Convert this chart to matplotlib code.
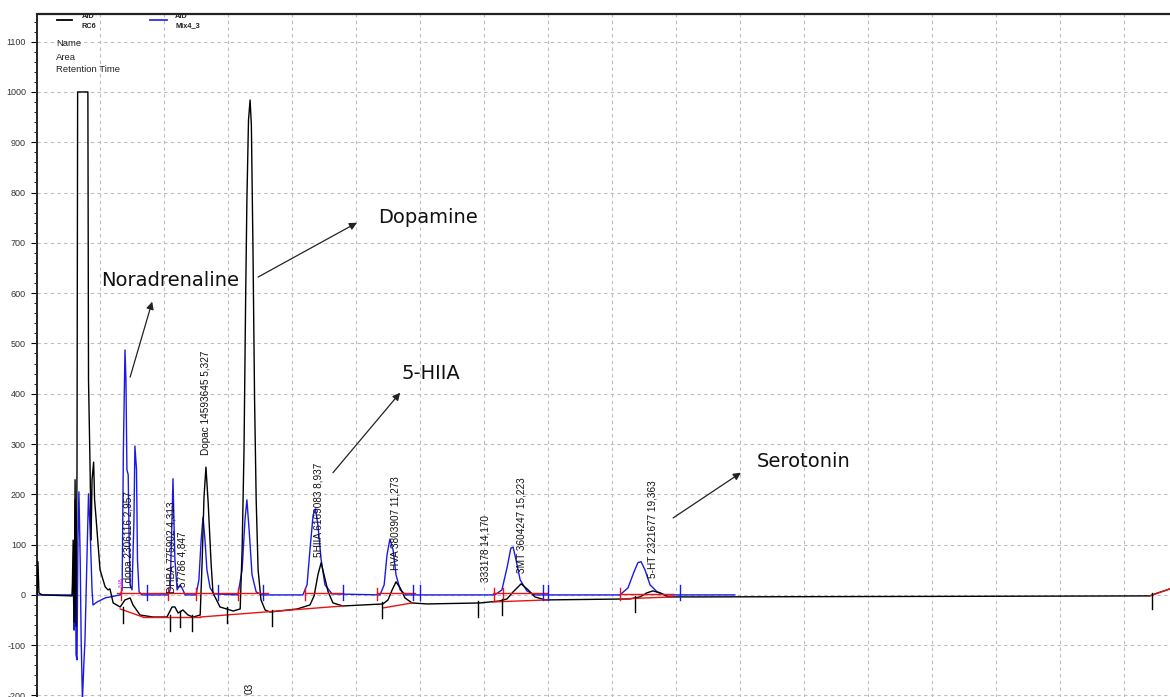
import matplotlib
matplotlib.use("Agg")
import matplotlib.pyplot as plt
from matplotlib.ticker import MultipleLocator, NullFormatter

plt.rcParams["axes.unicode_minus"] = False

# detector trace of sample RC6 (time in min, signal in mV)
black_t = [0.03, 0.06, 0.09, 0.19, 1.13, 1.16, 1.19, 1.22, 1.25, 1.28, 1.30, 1.62, 1.64,
           1.69, 1.72, 1.75, 1.80, 1.83, 1.88, 1.94, 2.00, 2.16, 2.25, 2.31, 2.41, 2.63,
           2.78, 2.94, 3.03, 3.25, 3.66, 4.09, 4.25, 4.34, 4.44, 4.59, 4.75, 4.91, 5.13,
           5.19, 5.25, 5.31, 5.38, 5.47, 5.53, 5.75, 6.16, 6.38, 6.44, 6.50, 6.55, 6.59,
           6.64, 6.69, 6.73, 6.78, 6.83, 6.88, 6.94, 7.03, 7.16, 7.31, 8.16, 8.56, 8.69,
           8.81, 8.91, 9.00, 9.13, 9.28, 9.59, 10.84, 11.00, 11.13, 11.25, 11.38, 11.53,
           11.75, 12.22, 13.88, 14.50, 14.72, 14.91, 15.16, 15.38, 15.59, 15.91, 18.56,
           18.88, 19.09, 19.28, 19.50, 19.75, 20.75, 34.81, 34.97, 35.44]
black_v = [0, 66, 4, 0, -2, 109, -54, 229, -62, 248, 1000, 1000, 427,
           248, 109, 229, 264, 189, 149, 99, 50, 16, 10, 12, -16, -24,
           -10, -6, -20, -40, -44, -44, -24, -24, -36, -30, -40, -44, -40,
           64, 195, 254, 183, 64, 4, -24, -32, -28, 89, 288, 586, 785,
           944, 984, 934, 686, 388, 189, 50, -10, -30, -34, -28, -20, -2,
           40, 64, 40, 6, -16, -22, -18, -10, 10, 26, 14, -6,
           -16, -18, -16, -12, -8, 6, 22, 10, -4, -10, -8,
           -4, 4, 8, 4, -4, -4, -2, 2, 12]

# detector trace of standard mix Mix4_3
blue_t = [0.03, 1.13, 1.16, 1.19, 1.22, 1.25, 1.28, 1.31, 1.34, 1.38, 1.41, 1.45, 1.50,
          1.53, 1.59, 1.64, 1.69, 1.75, 1.78, 1.91, 2.16, 2.47, 2.63, 2.69, 2.73, 2.78,
          2.81, 2.84, 2.88, 2.91, 2.94, 3.00, 3.06, 3.09, 3.14, 3.17, 3.22, 3.31, 4.13,
          4.19, 4.25, 4.28, 4.31, 4.34, 4.41, 4.50, 4.56, 4.66, 5.00, 5.09, 5.16, 5.22,
          5.28, 5.34, 5.44, 5.56, 6.31, 6.44, 6.53, 6.59, 6.66, 6.75, 6.88, 7.06, 8.34,
          8.47, 8.56, 8.66, 8.73, 8.81, 8.91, 9.03, 9.25, 10.75, 10.88, 10.97, 11.06,
          11.16, 11.25, 11.38, 11.56, 14.34, 14.56, 14.72, 14.84, 14.91, 15.00, 15.13,
          15.34, 15.59, 18.25, 18.50, 18.69, 18.81, 18.91, 19.03, 19.19, 19.41, 19.66,
          21.84]
blue_v = [0, 0, 40, -70, 189, -119, -129, 109, 205, 70, -89, -209, -129,
          -89, 70, 201, 129, 10, -20, -14, -6, -2, 0, 10, 288, 487,
          427, 249, 239, 109, 20, 10, 149, 296, 249, 70, 6, 0, 0,
          10, 149, 231, 149, 70, 10, 20, 14, 0, 0, 30, 109, 155,
          109, 50, 14, 2, 0, 50, 149, 189, 129, 40, 6, 0, 0,
          20, 89, 159, 171, 139, 70, 20, 2, 0, 20, 80, 111,
          89, 40, 10, 0, 0, 10, 54, 93, 95, 70, 30,
          8, 0, 0, 14, 46, 64, 66, 50, 20, 6, 0,
          0]

# integration baselines (t0, v0, t1, v1)
base_black = [(2.63, -28, 3.34, -44), (3.34, -44, 5.13, -44), (5.13, -44, 9.59, -22),
              (10.84, -26, 11.75, -16), (14.28, -14, 15.97, -10), (18.25, -8, 19.91, -4),
              (34.81, -2, 35.44, 12)]
base_blue = [(2.53, 4, 7.25, 4), (8.41, 4, 9.59, 4), (10.66, 4, 11.84, 4),
             (14.28, 4, 15.97, 4), (18.25, 2, 19.91, 2)]
base_red_ticks = [2.66, 4.13, 5.00, 6.31, 8.41, 10.66, 14.31, 14.59, 18.25]

# peak start / end markers (time, trace level)
black_ticks = [(2.72, -28), (4.19, -44), (4.50, -36), (4.88, -44), (5.97, -28),
               (7.38, -34), (10.81, -18), (13.81, -16), (14.56, -12), (18.72, -6),
               (34.88, 0)]
blue_ticks = [3.47, 5.69, 7.09, 9.59, 11.78, 12.0, 15.84, 16.0, 20.13]

# peak labels: name, area, retention time
peak_labels = [("Ldopa 2306116 2,957", 2.91, 14),
               ("DHBA 775902 4,313", 4.22, 4),
               ("57786 4,847", 4.59, 16),
               ("Dopac 14593645 5,327", 5.31, 278),
               ("5HIIA 6169083 8,937", 8.84, 76),
               ("HVA 3803907 11,273", 11.22, 50),
               ("333178 14,170", 14.06, 26),
               ("3MT 3604247 15,223", 15.16, 44),
               ("5-HT 2321677 19,363", 19.28, 34)]

# compound names with arrows: text, text position, arrow tail, arrow head
callouts = [("Noradrenaline", (4.2, 626), (2.94, 433), (3.63, 583)),
            ("Dopamine", (12.25, 751), (6.94, 632), (10.03, 740)),
            ("5-HIIA", (12.34, 441), (9.28, 243), (11.38, 402)),
            ("Serotonin", (24.0, 266), (19.91, 153), (22.03, 243))]

fig = plt.figure(figsize=(11.7, 6.97), dpi=100)
ax = fig.add_axes([37 / 1170, 0, 1 - 37 / 1170, (697 - 14) / 697])

ax.set_xlim(0.03, 35.44)
ax.set_ylim(-203, 1155)

ax.xaxis.set_major_locator(MultipleLocator(2))
ax.yaxis.set_major_locator(MultipleLocator(100))
ax.yaxis.set_minor_locator(MultipleLocator(20))
ax.xaxis.set_major_formatter(NullFormatter())
ax.tick_params(axis="x", length=0)
ax.tick_params(axis="y", which="major", length=4, width=0.8, labelsize=6.5,
               labelcolor="#333333", pad=4)
ax.tick_params(axis="y", which="minor", length=2, width=0.6)
for lab in ax.get_yticklabels():
    lab.set_family("Liberation Sans")

ax.grid(True, which="major", color="#bdbdbd", linestyle=(0, (3, 3)), linewidth=0.8)
ax.set_axisbelow(True)
ax.spines["right"].set_visible(False)
ax.spines["bottom"].set_visible(False)
ax.spines["top"].set_linewidth(1.6)
ax.spines["top"].set_color("#222222")
ax.spines["left"].set_linewidth(1.4)
ax.spines["left"].set_color("#222222")

ax.plot(blue_t, blue_v, color="#1a1ae6", lw=1.0, zorder=3)
ax.plot(black_t, black_v, color="black", lw=1.0, zorder=4)

for t0, v0, t1, v1 in base_black + base_blue:
    ax.plot([t0, t1], [v0, v1], color="#ee1111", lw=1.0, zorder=5)
for t in base_red_ticks:
    ax.plot([t, t], [-10, 14], color="#ee1111", lw=1.0, zorder=5)

for t, v in black_ticks:
    ax.plot([t, t], [v - 28, v + 4], color="black", lw=1.0, zorder=5)
for t in blue_ticks:
    ax.plot([t, t], [-10, 20], color="#1a1ae6", lw=1.0, zorder=5)

for text, t, v in peak_labels:
    ax.text(t, v, text, rotation=90, ha="center", va="bottom", fontsize=7.2,
            family="Liberation Sans", color="#111111", zorder=6)
ax.text(2.69, 16, "NA", rotation=90, ha="center", va="bottom", fontsize=5.5,
        family="Liberation Sans", color="#e020e0", zorder=6)
ax.text(6.69, -175, "03", rotation=90, ha="center", va="top", fontsize=7.2,
        family="Liberation Sans", color="#111111", zorder=6)

for text, pos, tail, head in callouts:
    ax.text(pos[0], pos[1], text, ha="center", va="center", fontsize=14,
            family="DejaVu Sans", color="#111111", zorder=7)
    ax.annotate("", xy=head, xytext=tail,
                arrowprops=dict(arrowstyle="-|>", color="#222222", lw=0.9,
                                mutation_scale=11, shrinkA=0, shrinkB=0),
                zorder=7)

# header: legend entries and result table columns
fig.add_artist(plt.Line2D([57 / 1170, 72 / 1170], [1 - 20 / 697] * 2,
                          color="black", lw=1.3))
fig.add_artist(plt.Line2D([150 / 1170, 167 / 1170], [1 - 20 / 697] * 2,
                          color="#3030e0", lw=1.3))
for x, top, bottom in [(82, "AID", "RC6"), (175, "AID", "Mix4_3")]:
    fig.text(x / 1170, 1 - 16 / 697, top, fontsize=5.3, fontweight="bold",
             family="Liberation Sans", va="center", color="#222222")
    fig.text(x / 1170, 1 - 26 / 697, bottom, fontsize=5.3, fontweight="bold",
             family="Liberation Sans", va="center", color="#222222")
for i, name in enumerate(["Name", "Area", "Retention Time"]):
    fig.text(56 / 1170, 1 - (44 + 13 * i) / 697, name, fontsize=6.8,
             family="Liberation Sans", va="center", color="#222222")

fig.savefig("out.png", dpi=100)
